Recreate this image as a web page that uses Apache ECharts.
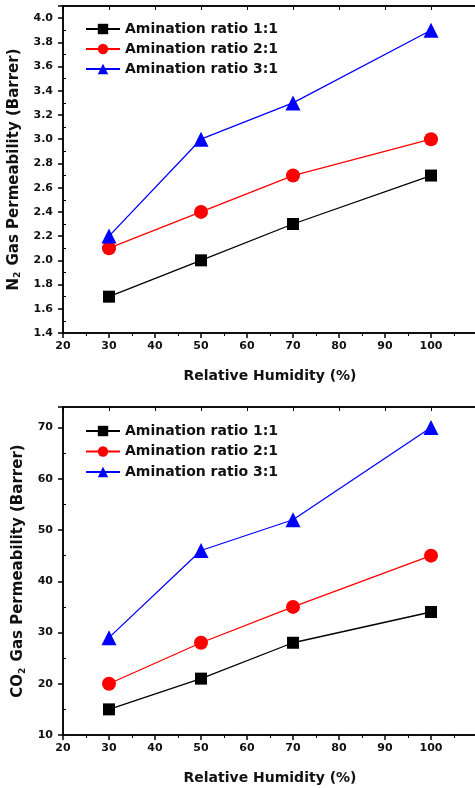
<!DOCTYPE html>
<html><head><meta charset="utf-8">
<script src="https://cdn.jsdelivr.net/npm/echarts@6/dist/echarts.min.js"></script>
<style>html,body{margin:0;padding:0;background:#fff}#c{width:475px;height:788px}</style>
</head><body><div id="c"></div>
<script>
const humidity = [30, 50, 70, 100];
const seriesNames = ['Amination ratio 1:1', 'Amination ratio 2:1', 'Amination ratio 3:1'];
const n2_ratio11 = [1.7, 2.0, 2.3, 2.7];
const n2_ratio21 = [2.1, 2.4, 2.7, 3.0];
const n2_ratio31 = [2.2, 3.0, 3.3, 3.9];
const co2_ratio11 = [15, 21, 28, 34];
const co2_ratio21 = [20, 28, 35, 45];
const co2_ratio31 = [29, 46, 52, 70];

const FONT = 'DejaVu Sans';
const colors = ['#000000', '#ff0000', '#0000ff'];
const symbols = ['rect', 'circle', 'triangle'];
const symSizes = [12, 14, 15];

function pairs(xs, ys) { return xs.map((x, i) => [x, ys[i]]); }

function mkSeries(idx, data) {
  return data.map((d, i) => ({
    name: seriesNames[i], type: 'line', xAxisIndex: idx * 2, yAxisIndex: idx * 2,
    data: pairs(humidity, d), symbol: symbols[i], symbolSize: symSizes[i],
    itemStyle: { color: colors[i] }, lineStyle: { color: colors[i], width: 1.3 },
    showSymbol: true, animation: false, z: 3 + i
  }));
}

const axisLine = { show: true, lineStyle: { color: '#000', width: 1.5 } };
const tickLabel = { color: '#111', fontFamily: FONT, fontWeight: 'bold', fontSize: 11 };

function xAx(gi) {
  return [{
    type: 'value', gridIndex: gi, min: 20, max: 110, interval: 10,
    axisLine, axisTick: { show: true, length: 5, lineStyle: { width: 1.5 } },
    minorTick: { show: true, splitNumber: 2, length: 3 },
    splitLine: { show: false },
    axisLabel: Object.assign({ margin: 8, formatter: v => (v > 100 ? '' : v) }, tickLabel),
    name: 'Relative Humidity (%)', nameLocation: 'middle', nameGap: 36,
    nameTextStyle: { color: '#111', fontFamily: FONT, fontWeight: 'bold', fontSize: 14 }
  }, {
    type: 'value', gridIndex: gi, position: 'top', min: 20, max: 110, interval: 10,
    axisLine, axisTick: { show: true, inside: true, length: 4 }, axisLabel: { show: false },
    splitLine: { show: false }
  }];
}

const grids = [
  { left: 63, width: 414, top: 6, height: 327, outerBoundsMode: 'none', containLabel: false, show: true, borderColor: '#000', borderWidth: 1.5 },
  { left: 63, width: 414, top: 407, height: 328, outerBoundsMode: 'none', containLabel: false, show: true, borderColor: '#000', borderWidth: 1.5 }
];

const yName = (g) => ({
  nameLocation: 'middle', nameGap: 36,
  name: '{b|' + g + '}{s|2}{b| Gas Permeability (Barrer)}',
  nameTextStyle: {
    color: '#111', fontFamily: FONT, fontWeight: 'bold', fontSize: 15,
    rich: {
      b: { fontFamily: FONT, fontWeight: 'bold', fontSize: 15, color: '#111' },
      s: { fontFamily: FONT, fontWeight: 'bold', fontSize: 9, color: '#111', verticalAlign: 'bottom', padding: [9, 1, 0, 0] }
    }
  }
});

function yPair(gi, min, max, interval, fmt, g) {
  return [
    Object.assign({
      type: 'value', gridIndex: gi, min, max, interval,
      axisLine, axisTick: { show: true, length: 5, lineStyle: { width: 1.5 } },
      splitLine: { show: false },
      axisLabel: Object.assign({ margin: 10, formatter: fmt }, tickLabel)
    }, yName(g)),
    {
      type: 'value', gridIndex: gi, position: 'left', min, max, interval,
      axisLine: { show: false }, axisTick: { show: false, inside: true },
      minorTick: { show: true, splitNumber: 2, length: 3, lineStyle: { color: '#000', width: 1 } },
      splitLine: { show: false }, axisLabel: { show: false }
    }
  ];
}

const yAxes = yPair(0, 1.4, 4.1, 0.2, v => (v > 4.05 ? '' : v.toFixed(1)), 'N')
  .concat(yPair(1, 10, 74, 10, v => (v > 70 ? '' : v), 'CO'));

const legendBase = {
  orient: 'vertical', left: 85, padding: 0, itemWidth: 34, itemHeight: 13, itemGap: 6,
  textStyle: { color: '#111', fontFamily: FONT, fontWeight: 'bold', fontSize: 14 },
  data: seriesNames
};

const chart = echarts.init(document.getElementById('c'));
const series = mkSeries(0, [n2_ratio11, n2_ratio21, n2_ratio31])
  .concat(mkSeries(1, [co2_ratio11, co2_ratio21, co2_ratio31]));
chart.setOption({
  animation: false,
  grid: grids,
  xAxis: xAx(0).concat(xAx(1)),
  yAxis: yAxes,
  legend: [
    Object.assign({ top: 22 }, legendBase),
    Object.assign({ top: 424 }, legendBase, { itemGap: 6.5 })
  ],
  series
});
</script></body></html>
